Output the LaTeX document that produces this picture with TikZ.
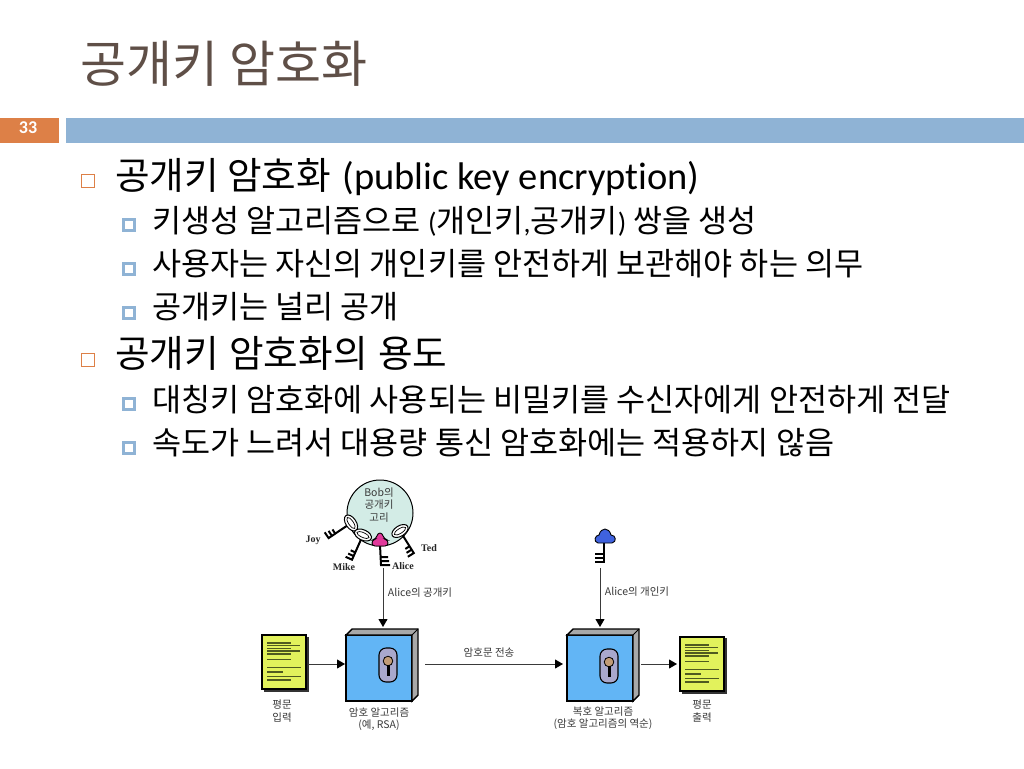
\documentclass[tikz,border=0pt]{standalone}
\usepackage{fontspec}
\setmainfont{Noto Sans CJK KR}
\newfontfamily\latinfont[Ligatures=NoCommon]{Carlito}
\newfontfamily\namefont{Liberation Serif}
\usetikzlibrary{arrows.meta}

\definecolor{titlegray}{HTML}{5F4F47}
\definecolor{barblue}{HTML}{8FB3D5}
\definecolor{barorange}{HTML}{DD8047}
\definecolor{boxblue}{HTML}{62B5F5}
\definecolor{boxtop}{HTML}{A8A8A8}
\definecolor{docyellow}{HTML}{E2F25C}
\definecolor{docline}{HTML}{4F5A20}
\definecolor{ringteal}{HTML}{D3ECE6}
\definecolor{holeblue}{HTML}{A9A8CC}
\definecolor{alicepink}{HTML}{E0389A}
\definecolor{cloudblue}{HTML}{3F62DE}
\definecolor{smalltext}{HTML}{3A3A3A}

\newcommand{\latparen}[1]{{\latinfont\fontsize{28}{28}\selectfont #1}}

\tikzset{
  headline/.style={anchor=west, inner sep=0, text=black, font=\fontsize{37.6}{38}\selectfont},
  subline/.style={anchor=west, inner sep=0, text=black, font=\fontsize{31.6}{32}\selectfont},
  mainbullet/.style={draw=barorange, line width=1pt, fill=white, minimum size=13pt, inner sep=0},
  subbullet/.style={draw=barblue, line width=3pt, fill=white, minimum size=11pt, inner sep=0},
  cipherbox/.style={draw=black, line width=1.4pt, fill=boxblue, minimum width=66pt, minimum height=66pt, inner sep=0, outer sep=0},
  docbox/.style={draw=black, line width=1.2pt, fill=docyellow, minimum width=44pt, minimum height=54pt, inner sep=0, outer sep=0},
  flowarrow/.style={draw=smalltext, line width=0.9pt, -{Triangle[length=8pt,width=9pt,black]}},
  smalllabel/.style={inner sep=0, align=center, text=smalltext, font=\fontsize{10.5}{12.5}\selectfont},
  keyname/.style={inner sep=0, text=black!85, font=\namefont\bfseries\fontsize{10}{10}\selectfont},
  keyline/.style={draw=black, line width=2pt},
  pics/keyicon/.style={code={
    \draw[black, line width=1pt, fill=white] (0,0) ellipse (5.2 and 9);
    \draw[black, line width=0.7pt, fill=white] (0,0) ellipse (2.4 and 6.6);
    \draw[keyline] (5.2,0) -- (#1,0) -- ++(0,7);
    \draw[keyline] (#1-4,0) -- ++(0,6) (#1-8,0) -- ++(0,5);
  }},
  pics/keyhole/.style={code={
    \draw[black, line width=1.1pt, fill=holeblue, rounded corners=7pt] (-9,-17) rectangle (9,17);
    \draw[black, line width=0.8pt, fill=boxtop!70!orange] (0,-4) circle (4.8);
    \fill[black] (-1.5,0) rectangle (1.5,11);
  }}
}

\begin{document}
\begin{tikzpicture}[x=1pt, y=-1pt]

  \useasboundingbox (0,0) rectangle (1024,768);
  \fill[white] (0,0) rectangle (1024,768);

  % Slide title and the two bars
  \node[anchor=west, inner sep=0, text=titlegray, font=\fontsize{50}{50}\selectfont] (title) at (80,64) {공개키 암호화};
  \fill[barorange] (0,118) rectangle (59,143);
  \fill[barblue] (66,118) rectangle (1024,143);
  \node[inner sep=0, text=white, font=\latinfont\bfseries\fontsize{18}{18}\selectfont] (pagenum) at (28,128) {33};

  % Bullets
  \foreach \y in {181,360} \node[mainbullet] at (88,\y) {};
  \foreach \y in {225,269,313,404,448} \node[subbullet] at (129,\y) {};

  % Text lines
  \node[headline] (lineA) at (115,177) {공개키 암호화\hspace{3pt} {\latinfont\fontsize{38.5}{38}\selectfont (public key encryption)}};
  \node[subline] (lineB) at (152,221) {키생성 알고리즘으로 \latparen{(}개인키\latparen{,}공개키\latparen{)} 쌍을 생성};
  \node[subline] (lineC) at (152,264) {사용자는 자신의 개인키를 안전하게 보관해야 하는 의무};
  \node[subline] (lineD) at (152,307) {공개키는 널리 공개};
  \node[headline] (lineE) at (115,353) {공개키\hspace{2pt} 암호화의\hspace{2pt} 용도};
  \node[subline] (lineF) at (152,400) {대칭키 암호화에 사용되는 비밀키를 수신자에게 안전하게 전달};
  \node[subline] (lineG) at (152,443) {속도가 느려서 대용량 통신 암호화에는 적용하지 않음};

  % Key ring
  \draw[black, line width=1pt, fill=ringteal] (380,513) circle (33);
  \node[smalllabel] (ringlabel) at (379,505) {Bob의\\공개키\\고리};

  % Keys on the ring
  \foreach \x/\y/\a/\l in {351/523/214/27, 363/535/246/27, 400/531/-58/26}
    \pic[rotate=\a] at (\x,\y) {keyicon=\l};
  \draw[keyline] (380,545) -- (381,565) -- ++(9,0) (381,561) -- ++(8,0) (381,557) -- ++(7,0);
  \draw[black, line width=0.9pt, fill=alicepink, rounded corners=3pt] (372,546) -- (372,540) -- (376,539) .. controls (378,532) and (382,532) .. (384,539) -- (388,540) -- (388,546) -- cycle;

  \node[keyname] (joy) at (313,540) {Joy};
  \node[keyname] (mike) at (344,567) {Mike};
  \node[keyname] (alice) at (403,566) {Alice};
  \node[keyname] (ted) at (429,548) {Ted};

  % Private key
  \draw[keyline] (604,543) -- (604,562) -- ++(-9,0) (604,558) -- ++(-9,0) (604,554) -- ++(-9,0);
  \draw[black, line width=0.9pt, fill=cloudblue] (598,543) .. controls (593,542) and (595,535) .. (599,535) .. controls (601,527) and (609,527) .. (611,535) .. controls (616,535) and (617,542) .. (612,543) -- cycle;

  % Boxes
  \node[cipherbox] (encbox) at (379,668) {};
  \node[cipherbox] (decbox) at (600,668) {};
  \foreach \b in {encbox,decbox} {
    \draw[black, line width=1.4pt, fill=boxtop] (\b.north west) -- ++(6,-6) -- ++(66,0) -- ++(0,66) -- (\b.south east) -- (\b.north east) -- cycle;
    \draw[black, line width=1pt] (\b.north east) -- ++(6,-6);
  }
  \pic at (388,665) {keyhole};
  \pic at (609,666) {keyhole};

  % Documents
  \fill[black!80] (264,637) rectangle (309,692);
  \fill[black!80] (682,638) rectangle (727,694);
  \node[docbox] (docin) at (284,662) {};
  \node[docbox] (docout) at (702,664) {};
  \foreach \dx/\dy in {284/662, 702/664}
    \foreach \ya/\w in {-19/24, -16.5/33, -13.5/24, -11/33, -8/24, -2.5/24, 5.5/34, 10/16, 14.5/34, 18/24}
      \draw[docline, line width=1.2pt] (\dx-17,\dy+\ya) -- ++(\w,0);

  % Connectors
  \coordinate (row) at (0,664);
  \coordinate (keyA) at (383,568);
  \coordinate (keyB) at (600,568);
  \draw[flowarrow, shorten <=2pt, shorten >=1pt] (docin.east |- row) -- (encbox.west |- row);
  \draw[flowarrow, shorten <=13pt, shorten >=4pt] (encbox.east |- row) -- (decbox.west |- row);
  \draw[flowarrow, shorten <=8pt, shorten >=3pt] (decbox.east |- row) -- (docout.west |- row);
  \draw[flowarrow, shorten >=8pt] (keyA) -- (keyA |- encbox.north);
  \draw[flowarrow, shorten >=8pt] (keyB) -- (keyB |- decbox.north);

  % Labels of the diagram
  \node[smalllabel] (pubkey) at (420,593) {Alice의 공개키};
  \node[smalllabel] (privkey) at (637,592) {Alice의 개인키};
  \node[smalllabel] (sendlabel) at (489,653) {암호문 전송};
  \node[smalllabel] (inlabel) at (282,711) {평문\\입력};
  \node[smalllabel] (enclabel) at (379,719) {암호 알고리즘\\(예, RSA)};
  \node[smalllabel] (declabel) at (603,718) {복호 알고리즘\\(암호 알고리즘의 역순)};
  \node[smalllabel] (outlabel) at (702,711) {평문\\출력};

\end{tikzpicture}
\end{document}
